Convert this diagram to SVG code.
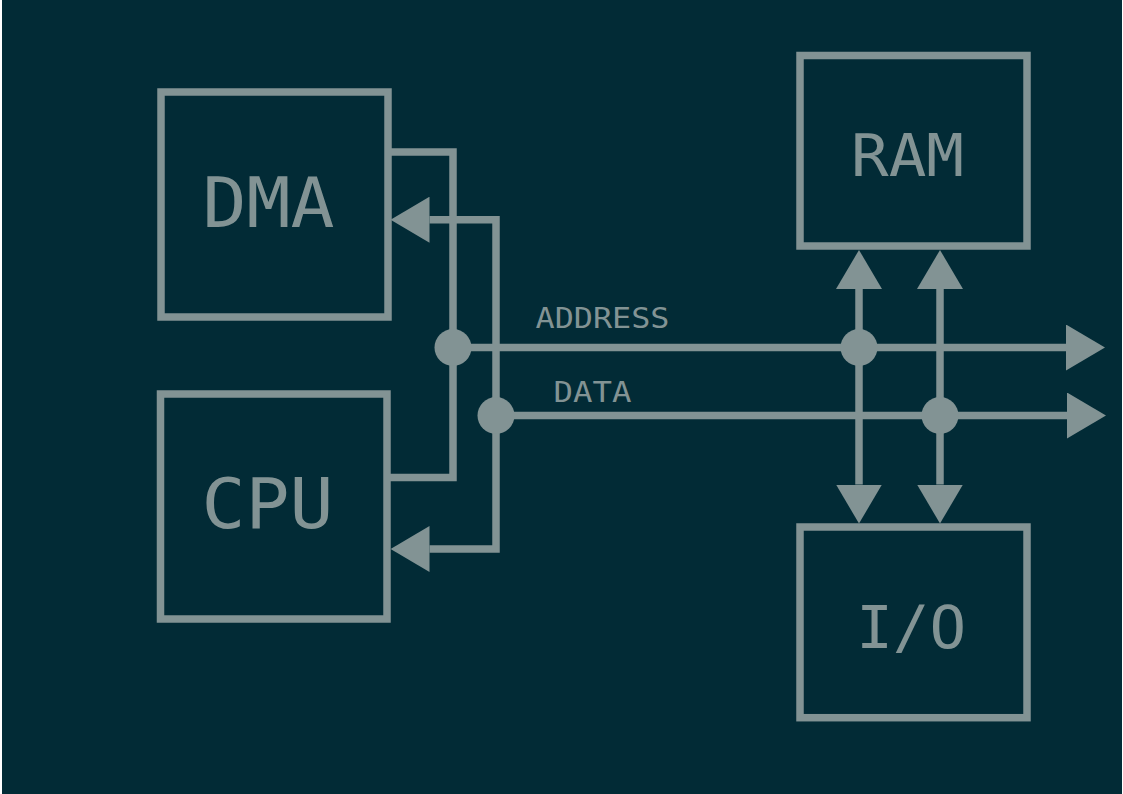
<svg xmlns="http://www.w3.org/2000/svg" width="1123" height="794" viewBox="0 0 1123 794">
  <style>
    .box { fill: none; stroke: #829394; stroke-width: 7.5; }
    .wire { fill: none; stroke: #829394; stroke-width: 7.5; }
    .dot { fill: #829394; }
    .big { font-family: "DejaVu Sans Mono", "Liberation Mono", monospace; fill: #829394; text-anchor: middle; }
    .small { font-family: "DejaVu Sans Mono", "Liberation Mono", monospace; fill: #829394; text-anchor: middle; font-size: 27.5px; }
  </style>
  <defs>
    <marker id="arrow" viewBox="0 0 39 46" refX="0" refY="23" markerWidth="39" markerHeight="46" markerUnits="userSpaceOnUse" orient="auto-start-reverse">
      <path d="M0,0 L39,23 L0,46 Z" fill="#829394"/>
    </marker>
  </defs>
  <rect x="0" y="0" width="1123" height="794" fill="#ffffff"/>
  <rect x="2" y="0" width="1120" height="794" fill="#022b36"/>

  <g id="connectors">
    <path class="wire" d="M388,152 H453 V347.5"/>
    <path class="wire" d="M496,415.5 V219.7 H429.5" marker-end="url(#arrow)"/>
    <path class="wire" d="M387,477.5 H453 V347.5"/>
    <path class="wire" d="M496,415.5 V549 H429.5" marker-end="url(#arrow)"/>
    <path class="wire" d="M453,347.5 H1066" marker-end="url(#arrow)"/>
    <path class="wire" d="M496,415.5 H1067" marker-end="url(#arrow)"/>
    <path class="wire" d="M859,289 V484.5" marker-start="url(#arrow)" marker-end="url(#arrow)"/>
    <path class="wire" d="M940,289 V484.5" marker-start="url(#arrow)" marker-end="url(#arrow)"/>
    <circle class="dot" cx="453" cy="347.5" r="18.5"/>
    <circle class="dot" cx="496" cy="415.5" r="18.5"/>
    <circle class="dot" cx="859" cy="347.5" r="18.5"/>
    <circle class="dot" cx="940" cy="415.5" r="18.5"/>
    <text class="small" x="602.5" y="328.3" textLength="134" lengthAdjust="spacingAndGlyphs">ADDRESS</text>
    <text class="small" x="592.5" y="401.7" textLength="78" lengthAdjust="spacingAndGlyphs">DATA</text>
  </g>

  <g id="dma">
    <rect class="box" x="161" y="92" width="227" height="225"/>
    <text class="big" x="268.5" y="226.7" font-size="69" textLength="132" lengthAdjust="spacingAndGlyphs">DMA</text>
  </g>
  <g id="cpu">
    <rect class="box" x="160.5" y="394" width="226.5" height="225"/>
    <text class="big" x="267.5" y="528.3" font-size="69" textLength="132" lengthAdjust="spacingAndGlyphs">CPU</text>
  </g>
  <g id="ram">
    <rect class="box" x="800" y="55.5" width="227" height="190.5"/>
    <text class="big" x="907.5" y="176" font-size="59.5" textLength="113" lengthAdjust="spacingAndGlyphs">RAM</text>
  </g>
  <g id="io">
    <rect class="box" x="800" y="527" width="227" height="190.7"/>
    <text class="big" x="911.2" y="647.7" font-size="59.5" textLength="110" lengthAdjust="spacingAndGlyphs">I/O</text>
  </g>
</svg>
